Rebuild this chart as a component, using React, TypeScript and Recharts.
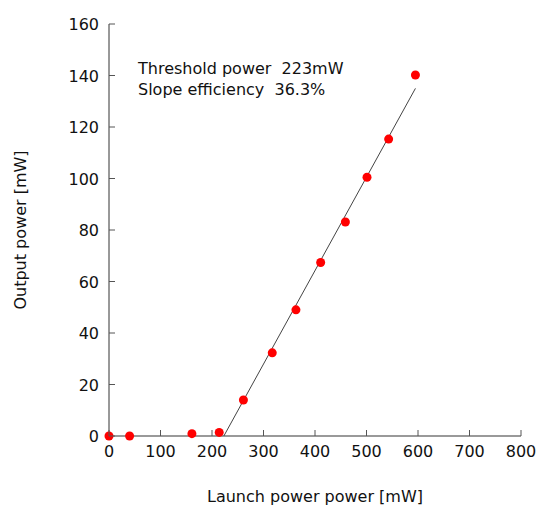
import React from 'react';
import { ScatterChart, Scatter, XAxis, YAxis } from 'recharts';

// measured points (launch power mW, output power mW)
const launchPower = [0, 40, 161, 214, 261, 317, 363, 411, 459, 501, 543, 595];
const outputPower = [0, 0, 0.9, 1.4, 14, 32.3, 49, 67.4, 83.1, 100.5, 115.3, 140.2];

// linear fit: threshold 223mW, slope 36.3%
const fitX = [223, 595];
const fitY = [0, 135];

const xTicks = [0, 100, 200, 300, 400, 500, 600, 700, 800];
const yTicks = [0, 20, 40, 60, 80, 100, 120, 140, 160];

const notes = ['Threshold power  223mW', 'Slope efficiency  36.3%'];

const FONT = '"DejaVu Sans", sans-serif';
const FRAME = '#555';

const points = launchPower.map((x, i) => ({ x, y: outputPower[i] }));
const fitLine = fitX.map((x, i) => ({ x, y: fitY[i] }));

const BottomTick = (props: any) => {
    const { x, y, payload } = props;
    return (
        <g>
            <line x1={x} y1={y} x2={x} y2={y - 6} stroke={FRAME} />
            <text x={x} y={y + 21} textAnchor="middle" fontSize={16} fontFamily={FONT} fill="#111">{payload.value}</text>
        </g>
    );
};

const TopTick = (props: any) => {
    const { x, y } = props;
    return <line x1={x} y1={y} x2={x} y2={y + 6} stroke={FRAME} />;
};

const LeftTick = (props: any) => {
    const { x, y, payload } = props;
    return (
        <g>
            <line x1={x} y1={y} x2={x + 6} y2={y} stroke={FRAME} />
            <text x={x - 10} y={y + 6} textAnchor="end" fontSize={16} fontFamily={FONT} fill="#111">{payload.value}</text>
        </g>
    );
};

const RightTick = (props: any) => {
    const { x, y } = props;
    return <line x1={x} y1={y} x2={x - 6} y2={y} stroke={FRAME} />;
};

const Dot = (props: any) => {
    const { cx, cy } = props;
    return <circle cx={cx} cy={cy} r={4.5} fill="#ff0000" />;
};

export default function App() {
    return (
        <div style={{ position: 'absolute', left: 0, top: 0, width: 538, height: 506, background: '#fff' }}>
            <ScatterChart width={538} height={506} margin={{ top: 24, right: 17, bottom: 0, left: 0 }}>
                <XAxis
                    type="number"
                    dataKey="x"
                    domain={[0, 800]}
                    ticks={xTicks}
                    height={70}
                    tickSize={0}
                    tickMargin={0}
                    tick={<BottomTick />}
                    axisLine={{ stroke: '#999', strokeWidth: 2 }}
                    label={{ value: 'Launch power power [mW]', position: 'insideBottom', offset: 4, style: { fontSize: 16, fontFamily: FONT, fill: '#111' } }}
                />
                <XAxis
                    xAxisId="top"
                    orientation="top"
                    type="number"
                    dataKey="x"
                    domain={[0, 800]}
                    ticks={xTicks}
                    height={0}
                    tickSize={0}
                    tickMargin={0}
                    tick={<TopTick />}
                    axisLine={{ stroke: FRAME }}
                />
                <YAxis
                    type="number"
                    dataKey="y"
                    domain={[0, 160]}
                    ticks={yTicks}
                    width={109}
                    tickSize={0}
                    tickMargin={0}
                    tick={<LeftTick />}
                    axisLine={{ stroke: '#333' }}
                    label={{ value: 'Output power [mW]', angle: -90, position: 'insideLeft', offset: 20, style: { textAnchor: 'middle', fontSize: 16, fontFamily: FONT, fill: '#111' } }}
                />
                <YAxis
                    yAxisId="right"
                    orientation="right"
                    type="number"
                    dataKey="y"
                    domain={[0, 160]}
                    ticks={yTicks}
                    width={0}
                    tickSize={0}
                    tickMargin={0}
                    tick={<RightTick />}
                    axisLine={{ stroke: FRAME }}
                />
                <Scatter data={fitLine} line={{ stroke: '#444', strokeWidth: 1 }} shape={() => <g />} isAnimationActive={false} />
                <Scatter data={points} shape={<Dot />} isAnimationActive={false} />
            </ScatterChart>
            <div style={{ position: 'absolute', left: 138, top: 58, fontFamily: FONT, fontSize: 16, lineHeight: '21px', color: '#111', whiteSpace: 'pre' }}>
                {notes.map((n) => <div key={n}>{n}</div>)}
            </div>
        </div>
    );
}
